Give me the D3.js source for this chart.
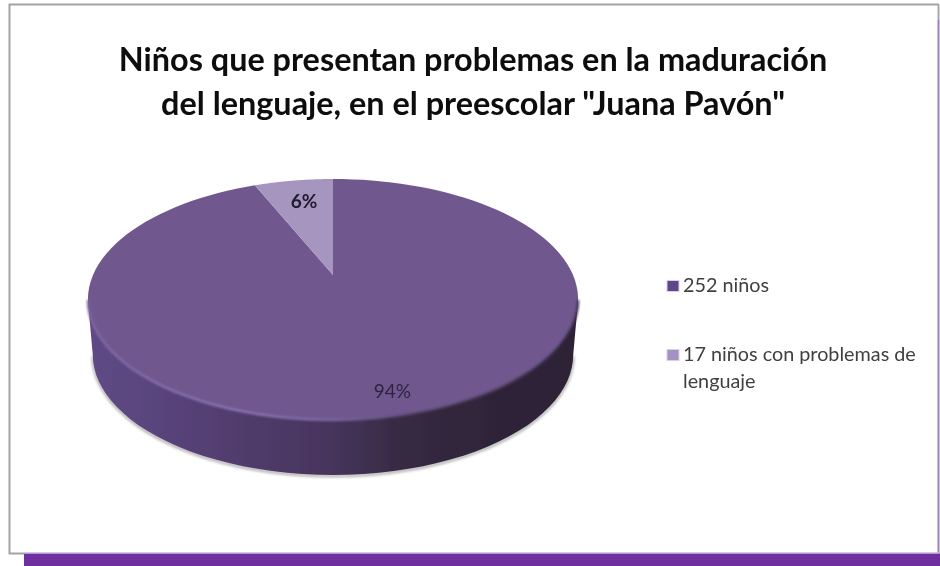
<!DOCTYPE html>
<html><head><meta charset="utf-8">
<script src="https://cdn.jsdelivr.net/npm/d3@7/dist/d3.min.js"></script>
<style>html,body{margin:0;padding:0;background:#fff;overflow:hidden}svg{display:block}text{font-family:Lato,"Open Sans",sans-serif}</style>
</head><body><svg id="c" width="940" height="566"></svg>
<script>
const titleLines = ['Niños que presentan problemas en la maduración', 'del lenguaje, en el preescolar "Juana Pavón"'];
const categories = ['252 niños', '17 niños con problemas de lenguaje'];
const legendLines = [['252 niños'], ['17 niños con problemas de', 'lenguaje']];
const values = [252, 17];
const percentLabels = ['94%', '6%'];
const sliceColors = ['#70588f', '#a696bf'];
const markerColors = ['#5f4688', '#a592c2'];
const labelWeights = [400, 700];
const labelRadius = [0.85, 0.75];
const labelNudge = [11, 2];
const labelColors = ['#2f2342', '#201a30'];

const svg = d3.select('#c');
const defs = svg.append('defs');
const W = 940, H = 566;

const blurF = (id, s) => defs.append('filter').attr('id', id).attr('x','-10%').attr('y','-10%').attr('width','120%').attr('height','120%')
  .append('feGaussianBlur').attr('stdDeviation', s);
blurF('soft', 0.6); blurF('shadow', 1.4); blurF('lipBlur', 0.9); blurF('textSoft', 0.4);

// background frame
svg.append('rect').attr('x',24).attr('y',553).attr('width',W-24).attr('height',H-553).attr('fill','#6f2f9e');
svg.append('path').attr('d','M938.5,20V553').attr('stroke','#9d7fbb').attr('stroke-width',2).attr('fill','none');
svg.append('path').attr('d','M938.5,4.5V20').attr('stroke','#a8a8a8').attr('stroke-width',2).attr('fill','none');
svg.append('path').attr('d','M939,4.5H9.5V553.5H24').attr('stroke','#a3a3a3').attr('stroke-width',2).attr('fill','none');
svg.append('path').attr('d','M24,553H940').attr('stroke','#c9b8d8').attr('stroke-width',1.5).attr('fill','none');

// title
svg.selectAll('text.title').data(titleLines).join('text').attr('class','title')
  .attr('x',473).attr('y',(d,i)=>71+i*44).attr('text-anchor','middle')
  .attr('font-size',32.4).attr('font-weight',700).attr('fill','#0d0d0d').attr('filter','url(#textSoft)').text(d=>d);

// perspective projection of the pie disc
const cx = 333, apexY = 275, k = 240, a = -59.6, c = 0.2033, depth = 55;
const project = (u, v) => {
  const w = c * v + 1;
  return [cx + k * u / w, (a * v + apexY) / w];
};
const rim = (t, r = 1) => project(r * Math.sin(t), r * Math.cos(t));
const line = d3.line();
const arcPts = (t0, t1) => d3.range(0, 121).map(i => rim(t0 + (t1 - t0) * i / 120));

const midY = (179 + 420) / 2;
const rimAll = arcPts(0, 2 * Math.PI);
const front = rimAll.filter(p => p[1] >= midY);
const xScaleBottom = x => cx + (x - cx) * 0.98;
const bottomFront = front.map(p => [xScaleBottom(p[0]), p[1] + depth]);
const wall = [front[0], ...bottomFront, front[front.length - 1]];

const wallGrad = defs.append('linearGradient').attr('id','wall').attr('gradientUnits','userSpaceOnUse')
  .attr('x1',88).attr('x2',578).attr('y1',0).attr('y2',0);
[[0,'#5f4a86'],[.12,'#5a457d'],[.33,'#503b6b'],[.5,'#46345c'],[.64,'#372a43'],[.82,'#2f2439'],[1,'#2d2236']]
  .forEach(s => wallGrad.append('stop').attr('offset', s[0]).attr('stop-color', s[1]));
const lipGrad = defs.append('linearGradient').attr('id','lip').attr('gradientUnits','userSpaceOnUse')
  .attr('x1',88).attr('x2',578).attr('y1',0).attr('y2',0);
[[0,'#7e66a4'],[.3,'#8f77b5'],[.5,'#7c66a0'],[.65,'#5c4a70'],[1,'#3e3050']]
  .forEach(s => lipGrad.append('stop').attr('offset', s[0]).attr('stop-color', s[1]));

svg.append('path').attr('d', line(bottomFront)).attr('fill','none').attr('stroke','#8f8f8f').attr('stroke-width',2)
  .attr('filter','url(#shadow)').attr('transform','translate(0,1)');
const pieG = svg.append('g').attr('filter','url(#soft)');
pieG.append('path').attr('d', line(wall) + 'Z').attr('fill','url(#wall)');

// top face drawn from the pie layout
const pie = d3.pie().sort(null).startAngle(0).endAngle(2 * Math.PI);
const slices = pie(values);
pieG.selectAll('path.slice').data(slices).join('path').attr('class','slice')
  .attr('d', d => line([project(0,0), ...arcPts(d.startAngle, d.endAngle)]) + 'Z')
  .attr('fill', (d,i) => sliceColors[i]);
svg.append('path').attr('d', line(front)).attr('fill','none').attr('stroke','url(#lip)')
  .attr('stroke-width',2.4).attr('filter','url(#lipBlur)');

// data labels
svg.selectAll('text.pct').data(slices).join('text').attr('class','pct')
  .attr('x', (d,i) => rim((d.startAngle + d.endAngle) / 2, labelRadius[i])[0] + labelNudge[i])
  .attr('y', (d,i) => rim((d.startAngle + d.endAngle) / 2, labelRadius[i])[1])
  .attr('dy','0.35em').attr('text-anchor','middle').attr('font-size',19)
  .attr('font-weight',(d,i)=>labelWeights[i]).attr('fill',(d,i)=>labelColors[i])
  .attr('filter','url(#textSoft)').text((d,i)=>percentLabels[i]);

// legend
const legendY = d3.scalePoint().domain(categories).range([286, 355]);
const lg = svg.selectAll('g.lg').data(categories).join('g').attr('class','lg')
  .attr('transform', d => `translate(667,${legendY(d)})`);
lg.append('rect').attr('x',0).attr('y',-5.5).attr('width',12).attr('height',11).attr('fill',(d,i)=>markerColors[i])
  .attr('stroke','#d9d0e6').attr('stroke-width',1);
lg.each(function(d,i){
  d3.select(this).selectAll('text').data(legendLines[i]).join('text')
    .attr('x',16).attr('y',(t,j)=>6+j*27).attr('font-size',19.8).attr('fill','#404040').attr('filter','url(#textSoft)').text(t=>t);
});
</script></body></html>
